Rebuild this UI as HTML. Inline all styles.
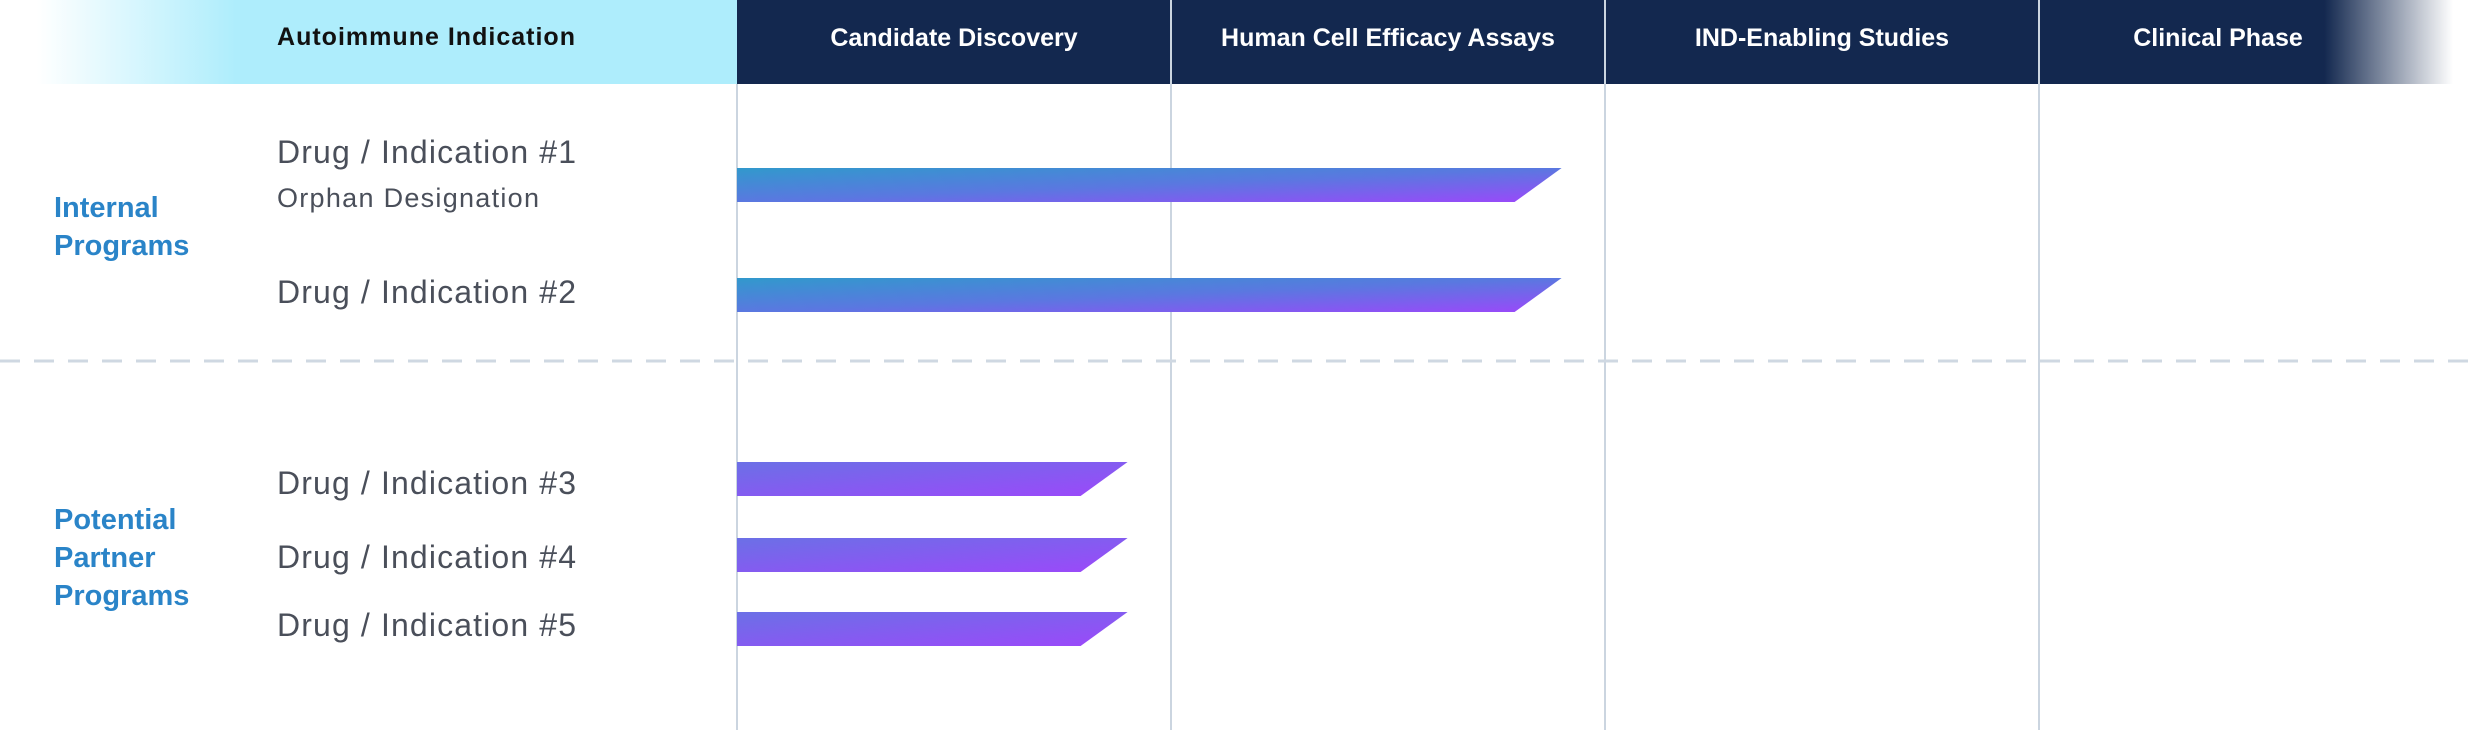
<!DOCTYPE html>
<html><head><meta charset="utf-8">
<style>
html,body{margin:0;padding:0;background:#fff;}
body{width:2474px;height:730px;overflow:hidden;position:relative;font-family:"Liberation Sans",sans-serif;}
svg{position:absolute;left:0;top:0;}
</style></head>
<body>
<svg id="chart" width="2474" height="730" viewBox="0 0 2474 730">
<defs>
<linearGradient id="hdrLeft" x1="0" x2="1" y1="0" y2="0">
<stop offset="0" stop-color="#ffffff"/><stop offset="0.05" stop-color="#ffffff"/><stop offset="0.32" stop-color="#aeedfc"/><stop offset="1" stop-color="#aeedfc"/>
</linearGradient>
<linearGradient id="hdrRight" x1="0" x2="1" y1="0" y2="0">
<stop offset="0" stop-color="#13284f"/><stop offset="0.925" stop-color="#13284f"/><stop offset="0.97" stop-color="#13284f" stop-opacity="0.4"/><stop offset="1" stop-color="#13284f" stop-opacity="0"/>
</linearGradient>
<linearGradient id="barLong" x1="0" y1="0" x2="1" y2="1">
<stop offset="0" stop-color="#3199cc"/><stop offset="0.5" stop-color="#5a78e0"/><stop offset="1" stop-color="#9b48fa"/>
</linearGradient>
<linearGradient id="barShort" x1="0" y1="0" x2="1" y2="1">
<stop offset="0" stop-color="#6b70e6"/><stop offset="1" stop-color="#9c48fa"/>
</linearGradient>
</defs>
<rect x="0" y="0" width="737" height="84" fill="url(#hdrLeft)"/>
<rect x="737" y="0" width="1716" height="84" fill="url(#hdrRight)"/>
<g id="grid"></g>
<line x1="0" y1="361" x2="2474" y2="361" stroke="#cfd8e2" stroke-width="3" stroke-dasharray="20,14"/>
<text x="277" y="45" font-size="25" font-weight="bold" fill="#111" textLength="298">Autoimmune Indication</text>
<g id="headers"></g>
<text font-size="29" font-weight="bold" fill="#2a84c8"><tspan x="54" y="217">Internal</tspan><tspan x="54" y="255">Programs</tspan></text>
<text font-size="29" font-weight="bold" fill="#2a84c8"><tspan x="54" y="529">Potential</tspan><tspan x="54" y="567">Partner</tspan><tspan x="54" y="605">Programs</tspan></text>
<text x="277" y="207" font-size="27" fill="#4a4f5a" textLength="262">Orphan Designation</text>
<g id="rows"></g>
</svg>
<script>
const stages = ["Candidate Discovery","Human Cell Efficacy Assays","IND-Enabling Studies","Clinical Phase"];
const drugs = ["Drug / Indication #1","Drug / Indication #2","Drug / Indication #3","Drug / Indication #4","Drug / Indication #5"];
const progress = [1.9, 1.9, 0.9, 0.9, 0.9];
const internalFlags = [true, true, false, false, false];

const NS="http://www.w3.org/2000/svg";
const colX0=737, colW=434;
function x(v){return colX0+v*colW;}
const barY=[168,278,462,538,612], barH=[34,34,34,34,34], labelY=[163,303,494,568,636];
const hdrOffset=[0,0,0,-38];

const grid=document.getElementById('grid');
const hdr=document.getElementById('headers');
stages.forEach((s,i)=>{
  const l=document.createElementNS(NS,'line');
  
  
  l.setAttribute('x1',x(i));l.setAttribute('x2',x(i));
  l.setAttribute('y1',i===0?84:0);l.setAttribute('y2',730);
  l.setAttribute('stroke','#cbd5e0');l.setAttribute('stroke-width','2');
  grid.appendChild(l);
  const t=document.createElementNS(NS,'text');
  
  
  t.setAttribute('x',x(i+0.5)+hdrOffset[i]);t.setAttribute('y',46);
  t.setAttribute('text-anchor','middle');t.setAttribute('font-size','25');
  t.setAttribute('font-weight','bold');t.setAttribute('fill','#ffffff');
  t.textContent=s;hdr.appendChild(t);
});
const rows=document.getElementById('rows');
drugs.forEach((d,i)=>{
  const t=document.createElementNS(NS,'text');
  
  
  t.setAttribute('x',277);t.setAttribute('y',labelY[i]);
  t.setAttribute('font-size','32');t.setAttribute('fill','#4a4f5a');
  t.setAttribute('textLength','299');
  t.textContent=d;rows.appendChild(t);
  const y0=barY[i],y1=barY[i]+barH[i],xe=x(progress[i]),sl=47;
  const p=document.createElementNS(NS,'path');
  
  
  p.setAttribute('d',`M${x(0)},${y0}L${xe},${y0}L${xe-sl},${y1}L${x(0)},${y1}Z`);
  p.setAttribute('fill',internalFlags[i]?'url(#barLong)':'url(#barShort)');
  rows.appendChild(p);
});
</script>
</body></html>
